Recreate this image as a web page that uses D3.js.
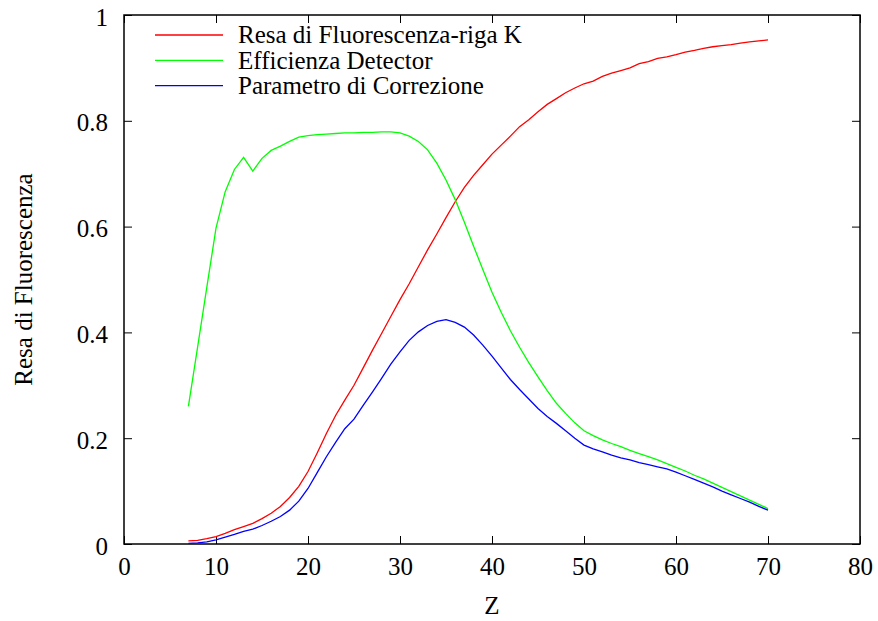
<!DOCTYPE html>
<html>
<head>
<meta charset="utf-8">
<script src="https://cdn.jsdelivr.net/npm/d3@7"></script>
<style>
  body { margin: 0; background: #fff; }
  svg text { font-family: "Liberation Serif", "Times New Roman", serif; fill: #000; }
</style>
</head>
<body>
<div id="chart"></div>
<script>
// atomic number Z
const zValues = [7, 8, 9, 10, 11, 12, 13, 14, 15, 16, 17, 18, 19, 20, 21, 22, 23, 24, 25, 26, 27, 28, 29, 30,
    31, 32, 33, 34, 35, 36, 37, 38, 39, 40, 41, 42, 43, 44, 45, 46, 47, 48, 49, 50,
    51, 52, 53, 54, 55, 56, 57, 58, 59, 60, 61, 62, 63, 64, 65, 66, 67, 68, 69, 70];

// Resa di Fluorescenza-riga K
const resaK = [0.006, 0.007, 0.010, 0.014, 0.020, 0.027, 0.033, 0.039, 0.048, 0.058, 0.071, 0.088, 0.109, 0.137,
    0.172, 0.209, 0.243, 0.272, 0.300, 0.333, 0.366, 0.398, 0.430, 0.462,
    0.492, 0.524, 0.556, 0.586, 0.617, 0.647, 0.674, 0.697, 0.717, 0.737, 0.754, 0.771, 0.789, 0.802, 0.817, 0.831,
    0.842, 0.853, 0.862, 0.870, 0.875, 0.884, 0.890, 0.895, 0.900, 0.908, 0.912, 0.918, 0.921, 0.925,
    0.930, 0.933, 0.937, 0.940, 0.942, 0.944, 0.947, 0.949, 0.951, 0.953];

// Efficienza Detector
const efficienza = [0.260, 0.372, 0.485, 0.597, 0.666, 0.708, 0.731, 0.705, 0.729, 0.744, 0.752, 0.761, 0.769, 0.772,
    0.774, 0.775, 0.776, 0.777, 0.777, 0.778, 0.778, 0.779, 0.779, 0.777,
    0.771, 0.761, 0.745, 0.720, 0.688, 0.651, 0.608, 0.563, 0.519, 0.476, 0.438, 0.403, 0.372, 0.343, 0.316, 0.290,
    0.266, 0.247, 0.229, 0.214, 0.205, 0.197, 0.190, 0.184, 0.177, 0.171, 0.165, 0.159, 0.152, 0.145,
    0.138, 0.130, 0.123, 0.115, 0.107, 0.099, 0.091, 0.083, 0.075, 0.067];

// Parametro di Correzione
const correzione = [0.001, 0.002, 0.004, 0.008, 0.013, 0.018, 0.024, 0.028, 0.035, 0.043, 0.052, 0.064, 0.081, 0.105,
    0.135, 0.165, 0.192, 0.218, 0.236, 0.262, 0.287, 0.313, 0.340, 0.363,
    0.385, 0.401, 0.413, 0.421, 0.424, 0.419, 0.410, 0.395, 0.376, 0.355, 0.333, 0.311, 0.292, 0.274, 0.256, 0.241,
    0.228, 0.214, 0.200, 0.187, 0.180, 0.174, 0.168, 0.163, 0.159, 0.154, 0.150, 0.146, 0.142, 0.136,
    0.129, 0.122, 0.115, 0.108, 0.100, 0.093, 0.086, 0.079, 0.071, 0.064];

const xTicks = [0, 10, 20, 30, 40, 50, 60, 70, 80];
const yTicks = [0, 0.2, 0.4, 0.6, 0.8, 1];

const seriesNames = ["Resa di Fluorescenza-riga K", "Efficienza Detector", "Parametro di Correzione"];
const seriesColors = ["#ff0000", "#00ff00", "#0000ff"];
const seriesValues = [resaK, efficienza, correzione];

const width = 878, height = 621;
const marginLeft = 124, marginTop = 15, marginRight = 18, marginBottom = 77;
const fontSize = 25;
const tickLen = 8;

const svg = d3.select("#chart").append("svg")
    .attr("width", width)
    .attr("height", height)
    .attr("viewBox", [0, 0, width, height]);

const x = d3.scaleLinear().domain([0, 80]).range([marginLeft, width - marginRight]);
const y = d3.scaleLinear().domain([0, 1]).range([height - marginBottom, marginTop]);

// ticks on all four sides, pointing inward
function styleAxis(g) {
    g.select(".domain").remove();
    g.selectAll(".tick line").attr("stroke", "#000").attr("stroke-width", 1);
    g.selectAll(".tick text").attr("font-size", fontSize).attr("font-family", null);
}

svg.append("g")
    .attr("transform", `translate(0,${y(0)})`)
    .call(d3.axisBottom(x).tickValues(xTicks).tickFormat(d3.format("d")).tickSize(-tickLen).tickPadding(10))
    .call(styleAxis)
    .call(g => g.selectAll(".tick text").attr("dy", "0.82em"));

svg.append("g")
    .attr("transform", `translate(0,${y(1)})`)
    .call(d3.axisTop(x).tickValues(xTicks).tickFormat("").tickSize(-tickLen))
    .call(styleAxis);

svg.append("g")
    .attr("transform", `translate(${x(0)},0)`)
    .call(d3.axisLeft(y).tickValues(yTicks).tickFormat(d => d === 0 || d === 1 ? d : d3.format(".1f")(d)).tickSize(-tickLen).tickPadding(16))
    .call(styleAxis)
    .call(g => g.selectAll(".tick text").attr("dy", "0.4em"));

svg.append("g")
    .attr("transform", `translate(${x(80)},0)`)
    .call(d3.axisRight(y).tickValues(yTicks).tickFormat("").tickSize(-tickLen))
    .call(styleAxis);

// frame
svg.append("rect")
    .attr("x", x(0))
    .attr("y", y(1))
    .attr("width", x(80) - x(0))
    .attr("height", y(0) - y(1))
    .attr("fill", "none")
    .attr("stroke", "#000")
    .attr("stroke-width", 1.5);

// curves
const line = d3.line()
    .x((d, i) => x(zValues[i]))
    .y(d => y(d));

svg.append("g")
    .attr("fill", "none")
    .attr("stroke-width", 1.3)
    .selectAll("path")
    .data(seriesValues)
    .join("path")
    .attr("stroke", (d, i) => seriesColors[i])
    .attr("d", line);

// legend
const legend = svg.append("g")
    .selectAll("g")
    .data(seriesNames)
    .join("g")
    .attr("transform", (d, i) => `translate(155,${35 + i * 25.3})`);

legend.append("line")
    .attr("x1", 0)
    .attr("x2", 68)
    .attr("stroke", (d, i) => seriesColors[i])
    .attr("stroke-width", 1.3);

legend.append("text")
    .attr("x", 83)
    .attr("dy", "0.33em")
    .attr("font-size", fontSize)
    .text(d => d);

// axis titles
svg.append("text")
    .attr("x", x(40))
    .attr("y", 614)
    .attr("text-anchor", "middle")
    .attr("font-size", fontSize)
    .text("Z");

svg.append("text")
    .attr("transform", `translate(32,${(y(0) + y(1)) / 2}) rotate(-90)`)
    .attr("text-anchor", "middle")
    .attr("font-size", fontSize)
    .text("Resa di Fluorescenza");
</script>
</body>
</html>
